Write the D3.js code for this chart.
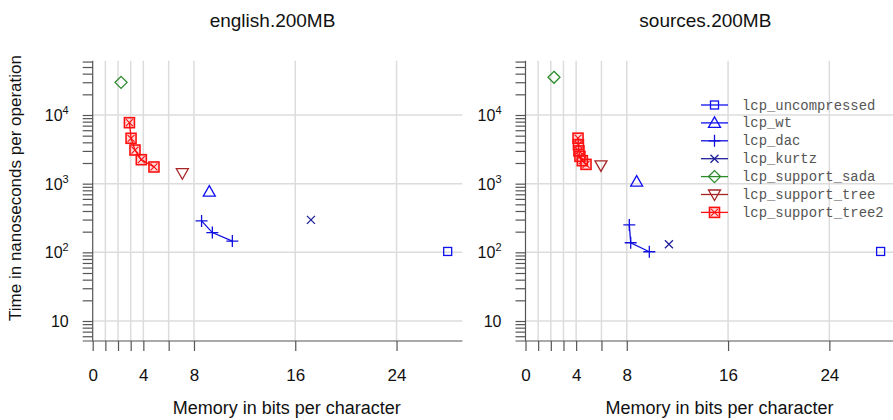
<!DOCTYPE html>
<html>
<head>
<meta charset="utf-8">
<script src="https://cdn.jsdelivr.net/npm/d3@7"></script>
<style>
	body { margin: 0; background: #fff; }
	svg { display: block; font-family: "Liberation Sans", Arial, sans-serif; }
	.grid line { stroke: #dcdcdc; stroke-width: 1.5; }
	.axis path, .axis line { stroke: #555; stroke-width: 1.2; }
	.axis text { fill: #111; }
</style>
</head>
<body>
<div id="chart"></div>
<script>
// DATA: [memory in bits per character, time in ns per operation]
var panelTitles = ["english.200MB", "sources.200MB"];
var seriesNames = ["lcp_uncompressed", "lcp_wt", "lcp_dac", "lcp_kurtz", "lcp_support_sada", "lcp_support_tree", "lcp_support_tree2"];

var englishUncompressed = [[28.04, 103]];
var englishWt = [[9.21, 766]];
var englishDac = [[8.6, 287], [9.45, 194], [11.03, 146]];
var englishKurtz = [[17.24, 297]];
var englishSada = [[2.24, 29900]];
var englishTree = [[7.08, 1420]];
var englishTree2 = [[2.9, 7730], [3.03, 4580], [3.34, 3090], [3.84, 2235], [4.84, 1750]];

var sourcesUncompressed = [[28.05, 103]];
var sourcesWt = [[8.78, 1070]];
var sourcesDac = [[8.2, 251], [8.31, 138], [9.78, 102]];
var sourcesKurtz = [[11.33, 131]];
var sourcesSada = [[2.25, 35400]];
var sourcesTree = [[5.96, 1850]];
var sourcesTree2 = [[4.15, 4600], [4.18, 3700], [4.22, 3000], [4.3, 2500], [4.49, 2160], [4.78, 1910]];

var xTicks = [0, 1, 2, 3, 4, 6, 8, 16, 24];
var xTickLabels = [0, 4, 8, 16, 24];
var yMajorTicks = [10, 100, 1000, 10000];

(function() {
	var W = 893, H = 420;

	var svg = d3.select("#chart").append("svg")
		.attr("width", W)
		.attr("height", H);

	// style for every series: colour, marker, whether points are joined
	var styles = {
		lcp_uncompressed:  { color: "#1010f0", marker: "square",  line: false },
		lcp_wt:            { color: "#1010f0", marker: "triUp",   line: false },
		lcp_dac:           { color: "#1010e0", marker: "plus",    line: true },
		lcp_kurtz:         { color: "#20209a", marker: "cross",   line: false },
		lcp_support_sada:  { color: "#2a8a2a", marker: "diamond", line: false },
		lcp_support_tree:  { color: "#a82424", marker: "triDown", line: false },
		lcp_support_tree2: { color: "#ff1010", marker: "boxX",    line: true }
	};

	var panels = [
		{ title: panelTitles[0], x0: 92.7, legend: false,
		  series: [englishUncompressed, englishWt, englishDac, englishKurtz, englishSada, englishTree, englishTree2] },
		{ title: panelTitles[1], x0: 525.5, legend: true,
		  series: [sourcesUncompressed, sourcesWt, sourcesDac, sourcesKurtz, sourcesSada, sourcesTree, sourcesTree2] }
	];

	var pxPerUnit = 12.66;
	var xMax = 29.2;
	var yBottom = 341, yTop = 60.7;

	// y log scale: 10 -> 321, 10^4 -> 115
	var yScale = d3.scaleLog().domain([10, 10000]).range([321, 115]);
	var yDomain = [yScale.invert(yBottom), yScale.invert(yTop)];
	yScale.domain(yDomain).range([yBottom, yTop]);

	var yAllTicks = [];
	for (var e = 0; e <= 5; e++) {
		for (var m = 1; m <= 9; m++) {
			var v = m * Math.pow(10, e);
			if (v >= yDomain[0] - 1e-9 && v <= yDomain[1]) yAllTicks.push(v);
		}
	}

	function drawMarker(g, type, color) {
		var p = g.append("g");
		switch (type) {
			case "square":
				p.append("rect").attr("x", -4).attr("y", -4).attr("width", 8).attr("height", 8)
					.attr("fill", "none").attr("stroke", color).attr("stroke-width", 1.3);
				break;
			case "triUp":
				p.append("path").attr("d", "M0,-6L6,4.5L-6,4.5Z")
					.attr("fill", "none").attr("stroke", color).attr("stroke-width", 1.3);
				break;
			case "triDown":
				p.append("path").attr("d", "M0,6L6,-4.5L-6,-4.5Z")
					.attr("fill", "none").attr("stroke", color).attr("stroke-width", 1.3);
				break;
			case "plus":
				p.append("path").attr("d", "M-6,0H6M0,-6V6")
					.attr("fill", "none").attr("stroke", color).attr("stroke-width", 1.3);
				break;
			case "cross":
				p.append("path").attr("d", "M-4,-4L4,4M-4,4L4,-4")
					.attr("fill", "none").attr("stroke", color).attr("stroke-width", 1.3);
				break;
			case "diamond":
				p.append("path").attr("d", "M0,-6L6,0L0,6L-6,0Z")
					.attr("fill", "none").attr("stroke", color).attr("stroke-width", 1.3);
				break;
			case "boxX":
				p.append("rect").attr("x", -5).attr("y", -5).attr("width", 10).attr("height", 10)
					.attr("fill", color).attr("fill-opacity", 0.15)
					.attr("stroke", color).attr("stroke-width", 1.6);
				p.append("path").attr("d", "M-3.5,-3.5L3.5,3.5M-3.5,3.5L3.5,-3.5")
					.attr("stroke", color).attr("stroke-width", 1.1);
				break;
		}
		return p;
	}

	panels.forEach(function(panel, pi) {
		var x = d3.scaleLinear().domain([0, xMax]).range([panel.x0, panel.x0 + xMax * pxPerUnit]);
		var xRight = x(xMax);

		var g = svg.append("g");

		// grid
		var grid = g.append("g").attr("class", "grid");
		grid.selectAll("line.v").data(xTicks.filter(function(d) { return d > 0; }))
			.enter().append("line").attr("class", "v")
			.attr("x1", function(d) { return x(d); }).attr("x2", function(d) { return x(d); })
			.attr("y1", yTop).attr("y2", yBottom);
		grid.selectAll("line.h").data(yMajorTicks)
			.enter().append("line").attr("class", "h")
			.attr("x1", x(0)).attr("x2", xRight)
			.attr("y1", function(d) { return yScale(d); }).attr("y2", function(d) { return yScale(d); });

		// x axis
		var xAxis = d3.axisBottom(x).tickValues(xTicks).tickSize(10).tickSizeOuter(0)
			.tickFormat(function(d) { return xTickLabels.indexOf(d) >= 0 ? d : ""; });
		var xg = g.append("g").attr("class", "axis").attr("transform", "translate(0," + yBottom + ")").call(xAxis);
		xg.select(".domain").remove();
		xg.append("line").attr("x1", panel.x0 - 10).attr("x2", xRight).attr("y1", 0).attr("y2", 0)
			.attr("stroke", "#555").attr("stroke-width", 1.2);
		xg.selectAll(".tick text").attr("font-size", 17).attr("dy", 0).attr("y", 40).attr("font-family", "Liberation Sans, Arial, sans-serif");

		// y axis
		var yAxis = d3.axisLeft(yScale).tickValues(yAllTicks).tickSize(10).tickSizeOuter(0).tickFormat("");
		var yg = g.append("g").attr("class", "axis").attr("transform", "translate(" + panel.x0 + ",0)").call(yAxis);
		yg.select(".domain").attr("d", "M0," + yTop + "V" + yBottom);

		yMajorTicks.forEach(function(v) {
			var e = Math.round(Math.log10(v));
			var t = g.append("text").attr("x", panel.x0 - 24).attr("y", yScale(v) + 6)
				.attr("text-anchor", "end").attr("font-size", 16).attr("fill", "#111");
			if (e === 1) {
				t.text("10");
			} else {
				t.append("tspan").text("10");
				t.append("tspan").attr("font-size", 11).attr("dy", -7).text(e);
			}
		});

		// title
		g.append("text").attr("x", (panel.x0 - 10 + xRight) / 2).attr("y", 27)
			.attr("text-anchor", "middle").attr("font-size", 19).attr("fill", "#111").text(panel.title);

		// x label
		g.append("text").attr("x", panel.x0 + 194).attr("y", 414)
			.attr("text-anchor", "middle").attr("font-size", 18).attr("fill", "#111")
			.text("Memory in bits per character");

		// data
		var line = d3.line().x(function(d) { return x(d[0]); }).y(function(d) { return yScale(d[1]); });
		panel.series.forEach(function(data, si) {
			var st = styles[seriesNames[si]];
			var sg = g.append("g");
			if (st.line && data.length > 1) {
				sg.append("path").datum(data).attr("d", line)
					.attr("fill", "none").attr("stroke", st.color).attr("stroke-width", 1.3);
			}
			data.forEach(function(d) {
				drawMarker(sg, st.marker, st.color)
					.attr("transform", "translate(" + x(d[0]) + "," + yScale(d[1]) + ")");
			});
		});

		// legend
		if (panel.legend) {
			var lg = g.append("g").attr("transform", "translate(701,105)");
			seriesNames.forEach(function(name, i) {
				var st = styles[name];
				var row = lg.append("g").attr("transform", "translate(0," + (i * 17.9) + ")");
				row.append("line").attr("x1", 0).attr("x2", 27).attr("y1", 0).attr("y2", 0)
					.attr("stroke", st.color).attr("stroke-width", 1.3);
				drawMarker(row, st.marker, st.color).attr("transform", "translate(13.5,0)");
				row.append("text").attr("x", 41).attr("y", 4.5)
					.attr("font-family", "Liberation Mono, Courier New, monospace")
					.attr("font-size", 13.9).attr("fill", "#555").text(name);
			});
		}
	});

	// y label
	svg.append("text").attr("transform", "translate(21,188)rotate(-90)")
		.attr("text-anchor", "middle").attr("font-size", 17).attr("fill", "#111")
		.text("Time in nanoseconds per operation");
}());
</script>
</body>
</html>
